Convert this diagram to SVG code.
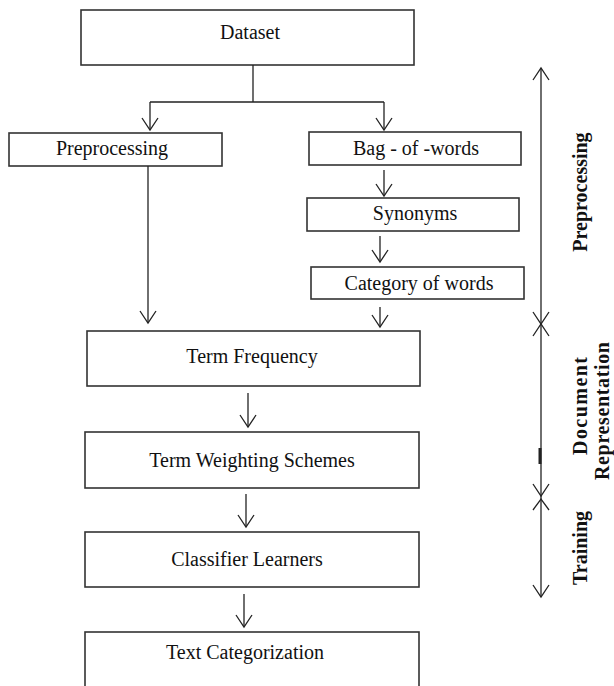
<svg xmlns="http://www.w3.org/2000/svg" width="614" height="686" viewBox="0 0 614 686">
<style>
.box{fill:#fff;stroke:#333;stroke-width:1.6}
.lbl{font-family:"Liberation Serif","Times New Roman",serif;font-size:20px;fill:#111;text-anchor:middle}
.side{font-family:"Liberation Serif","Times New Roman",serif;font-size:20px;font-weight:bold;fill:#111;text-anchor:middle}
.ln{fill:none;stroke:#222;stroke-width:1.3}
.ah{fill:none;stroke:#222;stroke-width:1.3}
</style>
<rect width="614" height="686" fill="#fff"/>
<g id="dataset"><rect class="box" x="81" y="10" width="333" height="55"/><text class="lbl" x="250" y="39">Dataset</text></g>
<g id="preprocessing"><rect class="box" x="9" y="133" width="213" height="33"/><text class="lbl" x="112" y="155">Preprocessing</text></g>
<g id="bag-of-words"><rect class="box" x="309" y="132" width="212" height="33"/><text class="lbl" x="416" y="155">Bag - of -words</text></g>
<g id="synonyms"><rect class="box" x="307" y="198" width="212" height="33"/><text class="lbl" x="415" y="220">Synonyms</text></g>
<g id="category-of-words"><rect class="box" x="311" y="267" width="213" height="32"/><text class="lbl" x="419" y="290">Category of words</text></g>
<g id="term-frequency"><rect class="box" x="87" y="331" width="333" height="55"/><text class="lbl" x="252" y="363">Term Frequency</text></g>
<g id="term-weighting"><rect class="box" x="85" y="432" width="334" height="56"/><text class="lbl" x="252" y="467">Term Weighting Schemes</text></g>
<g id="classifier-learners"><rect class="box" x="85" y="532" width="334" height="55"/><text class="lbl" x="247" y="566">Classifier Learners</text></g>
<g id="text-categorization"><rect class="box" x="85" y="632" width="334" height="70"/><text class="lbl" x="245" y="659">Text Categorization</text></g>
<g id="connectors">
<path class="ln" d="M253 65V102M150 102H384"/>
<path class="ln" d="M150 102V130"/><path class="ah" d="M142 118L150 130L158 118"/>
<path class="ln" d="M384 102V130"/><path class="ah" d="M376 118L384 130L392 118"/>
<path class="ln" d="M148 166V323"/><path class="ah" d="M140 311L148 323L156 311"/>
<path class="ln" d="M384 170V196"/><path class="ah" d="M376 184L384 196L392 184"/>
<path class="ln" d="M380 236V262"/><path class="ah" d="M372 250L380 262L388 250"/>
<path class="ln" d="M380 307V327"/><path class="ah" d="M372 315L380 327L388 315"/>
<path class="ln" d="M248 393V427"/><path class="ah" d="M240 415L248 427L256 415"/>
<path class="ln" d="M246 494V527"/><path class="ah" d="M238 515L246 527L254 515"/>
<path class="ln" d="M244 594V627"/><path class="ah" d="M236 615L244 627L252 615"/>
</g>
<g id="stage-axis">
<path class="ln" d="M541 68V597"/>
<path class="ln" d="M540 448V464" style="stroke-width:3"/>
<path class="ah" d="M533 80L541 68L549 80"/>
<path class="ah" d="M533 312L541 324L549 312"/>
<path class="ah" d="M533 336L541 324L549 336"/>
<path class="ah" d="M533 484L541 496L549 484"/>
<path class="ah" d="M533 510L541 499L549 510"/>
<path class="ah" d="M533 585L541 597L549 585"/>
</g>
<g id="stage-labels">
<text class="side" transform="translate(587 192) rotate(-90)">Preprocessing</text>
<text class="side" transform="translate(587 406) rotate(-90)" textLength="98" lengthAdjust="spacing">Document</text>
<text class="side" transform="translate(609 411) rotate(-90)" textLength="138" lengthAdjust="spacing">Representation</text>
<text class="side" transform="translate(587 548) rotate(-90)">Training</text>
</g>
</svg>
